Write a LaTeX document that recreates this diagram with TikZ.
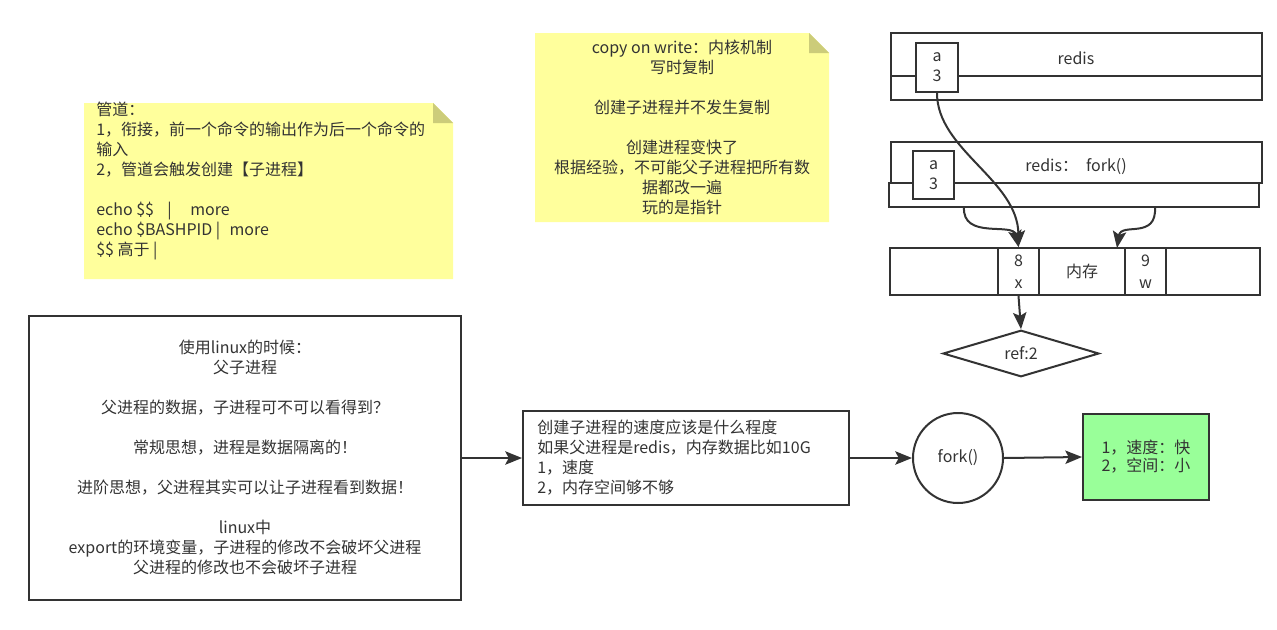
\documentclass[tikz,border=0pt]{standalone}
\usepackage{fontspec}
\setmainfont{Noto Sans CJK SC}
\usetikzlibrary{arrows.meta,shapes.geometric}
\definecolor{ink}{HTML}{333333}
\definecolor{notey}{HTML}{FFFF9C}
\definecolor{notef}{HTML}{CCCC7A}
\definecolor{grn}{HTML}{99FF99}
\begin{document}
\begin{tikzpicture}[x=0.75pt,y=-0.75pt,
  box/.style={draw=ink, line width=1.5pt, fill=white, inner sep=0pt},
  txt/.style={text=ink, font=\fontsize{12pt}{15pt}\selectfont, inner sep=0pt},
  arr/.style={draw=ink, line width=1.5pt, -{Stealth[length=12.5pt,width=10pt,inset=2.5pt]}}]
\useasboundingbox[fill=white] (0,0) rectangle (1277,629);

% sticky note 1
\fill[notey] (84,103) -- (433,103) -- (453,123) -- (453,279) -- (84,279) -- cycle;
\fill[notef] (433,103) -- (453,123) -- (433,123) -- cycle;
\node[txt, align=left, anchor=west] (n1t) at (96,181) {管道：\\1，衔接，前一个命令的输出作为后一个命令的\\输入\\2，管道会触发创建【子进程】\\[15pt]echo \$\$\hspace{10pt}|\hspace{14pt}more\\echo \$BASHPID |\hspace{7pt}more\\\$\$ 高于 |};

% sticky note 2
\fill[notey] (535,33) -- (809,33) -- (829,53) -- (829,222) -- (535,222) -- cycle;
\fill[notef] (809,33) -- (829,53) -- (809,53) -- cycle;
\node[txt, align=center] (n2t) at (682,127) {copy on write：内核机制\\写时复制\\[15pt]创建子进程并不发生复制\\[15pt]创建进程变快了\\根据经验，不可能父子进程把所有数\\据都改一遍\\玩的是指针};

% redis (parent)
\node[box, minimum width=278.25pt, minimum height=32.25pt] (r1top) at (1076.5,54.5) {};
\node[box, minimum width=278.25pt, minimum height=18pt] (r1bot) at (1076.5,88) {};
\node[box, minimum width=31.5pt, minimum height=36.75pt, txt, align=center] (a1) at (937,67.5) {a\\3};
\node[txt] (r1lab) at (1076,58) {redis};

% redis fork (child)
\node[box, minimum width=278.25pt, minimum height=30.75pt] (r2top) at (1076.5,162.5) {};
\node[box, minimum width=277.5pt, minimum height=18pt] (r2bot) at (1074,195) {};
\node[box, minimum width=30.75pt, minimum height=36pt, txt, align=center] (a2) at (933.5,175) {a\\3};
\node[txt] (r2lab) at (1076,167) {redis：\hspace{6pt}fork()};

% memory
\node[box, minimum width=81pt, minimum height=35.25pt] (c0) at (944,271.5) {};
\node[box, minimum width=30.75pt, minimum height=35.25pt, txt, align=center, font=\fontsize{12pt}{16.5pt}\selectfont] (cx) at (1018.5,271.5) {8\\x};
\node[box, minimum width=64.5pt, minimum height=35.25pt, txt] (cm) at (1082,271.5) {内存};
\node[box, minimum width=30.75pt, minimum height=35.25pt, txt, align=center, font=\fontsize{12pt}{16.5pt}\selectfont] (cw) at (1145.5,271.5) {9\\w};
\node[box, minimum width=70.5pt, minimum height=35.25pt] (c5) at (1213,271.5) {};

\node[box, shape=diamond, minimum width=117pt, minimum height=33.75pt, txt] (dia) at (1021,353.5) {ref:2};

% bottom row
\node[box, minimum width=324pt, minimum height=213pt] (big) at (245,458) {};
\node[txt, align=center] (bigt) at (245,457.5) {使用linux的时候：\\父子进程\\[15pt]父进程的数据，子进程可不可以看得到？\\[15pt]常规思想，进程是数据隔离的！\\[15pt]进阶思想，父进程其实可以让子进程看到数据！\\[15pt]linux中\\export的环境变量，子进程的修改不会破坏父进程\\父进程的修改也不会破坏子进程};

\node[box, minimum width=244.5pt, minimum height=70.5pt] (q) at (686,458) {};
\node[txt, align=left, anchor=west] (qt) at (537,457.5) {创建子进程的速度应该是什么程度\\如果父进程是redis，内存数据比如10G\\1，速度\\2，内存空间够不够};

\node[box, circle, minimum size=67.5pt, txt] (fork) at (958,458) {fork()};

\node[box, fill=grn, minimum width=94.5pt, minimum height=64.5pt, txt, align=center, font=\fontsize{12pt}{13.5pt}\selectfont] (green) at (1146,457) {1，速度：快\\2，空间：小};

% connectors
\coordinate (s2) at (964,207);
\coordinate (s3) at (1155,207);
\coordinate (t3) at (1117,248);
\draw[arr] (big.east) -- (q.west);
\draw[arr] (q.east) -- (fork.west);
\draw[arr] (fork.east) -- (green.west);
\draw[arr] (cx.south) -- (dia.north);
\draw[arr] (a1.south) .. controls (937,150) and (1018,180) .. (cx.north);
\draw[arr] (s2) .. controls (962,240) and (1013,222) .. (cx.north);
\draw[arr] (s3) .. controls (1157,240) and (1121,222) .. (t3);
\end{tikzpicture}
\end{document}
